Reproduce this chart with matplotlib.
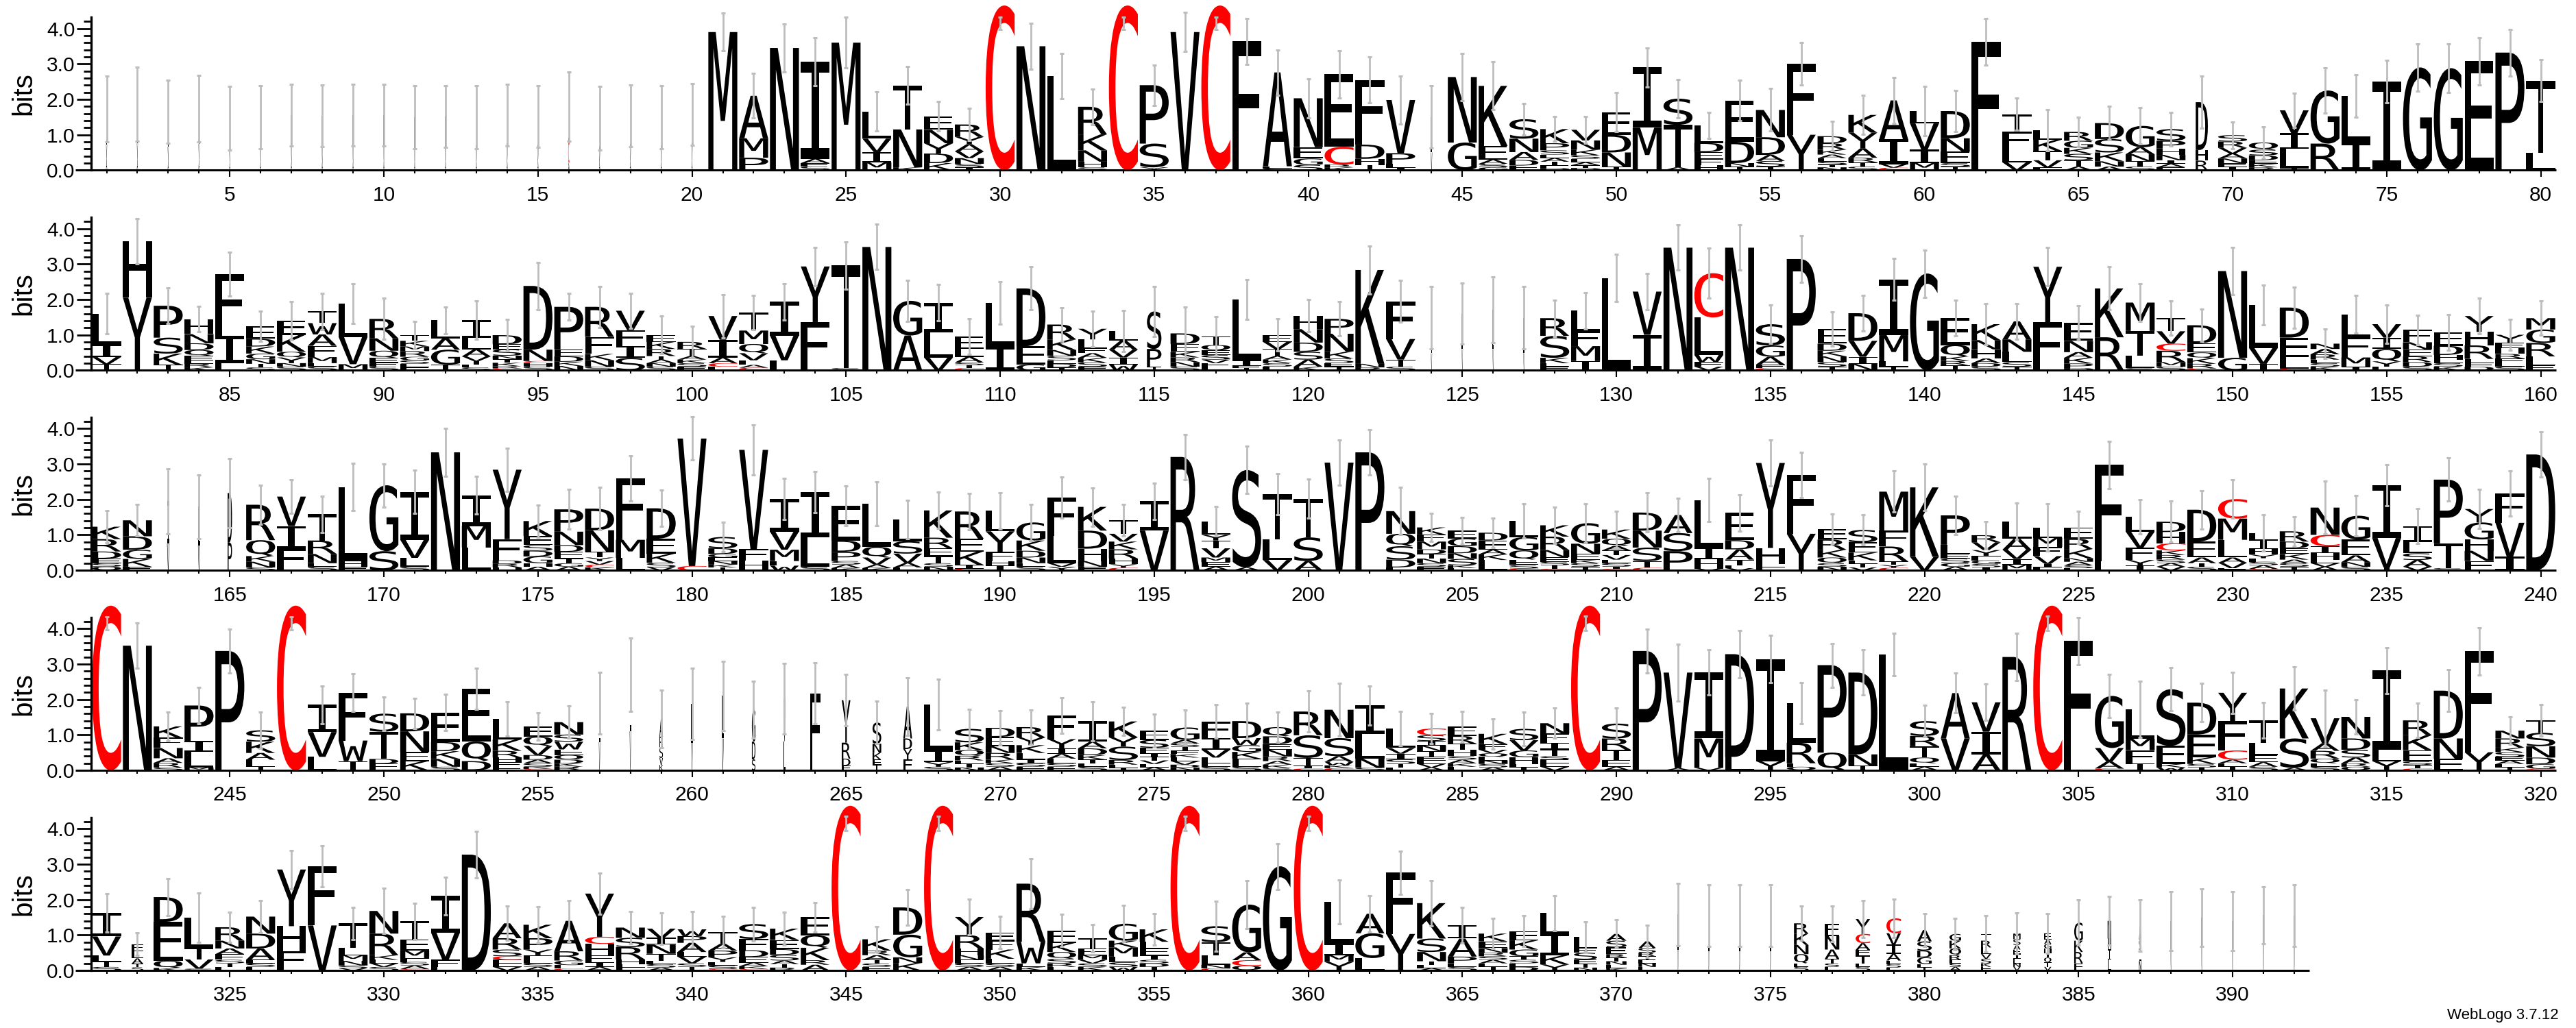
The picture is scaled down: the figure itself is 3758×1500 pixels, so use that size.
import matplotlib
matplotlib.use("Agg")
import matplotlib.pyplot as plt
from matplotlib.textpath import TextPath
from matplotlib.patches import PathPatch
from matplotlib.font_manager import FontProperties
from matplotlib.transforms import Affine2D
from matplotlib.ticker import MultipleLocator, FixedLocator
from matplotlib.lines import Line2D

# ---------------- data (letters top -> bottom, heights in bits) ----------------
ROW1 = [
    "L1.0 V.4 A.32", "L1.1 V.46 A.3", "L1.0 V.4 A.26", "L1.0 V.44 A.3", "L.9 V.35 A.22",
    "L.9 V.36 A.24", "L.9 V.4 A.26", "L.9 V.38 A.25", "L.9 V.4 A.25", "L.9 V.4 A.26",
    "L.9 V.36 A.24", "L.9 V.37 A.25", "L.9 V.36 A.24", "L.9 V.4 A.26", "L.9 V.37 A.25",
    "L1.0 C.6 A.2", "L.9 V.35 A.22", "L.9 V.38 A.25", "L.9 V.36 A.24", "L.9 V.4 A.27",
    "M3.9", "A1.2 M.55 P.35", "N3.45", "I2.75 A.12 F.1 S.1", "M3.6",
    "L.77 V.38 I.29 M.22", "T1.24 N1.07 K.08", "E.38 N.38 Y.29 D.27 K.2",
    "R.35 Y.21 A.2 V.19 N.16 S.1 I.08", "C4.65",
    "N3.5", "L2.65", "R.78 K.45 N.32 H.16 S.08", "C4.65", "P1.65 S.67 Y.08",
    "V3.9", "C4.65", "F3.64", "A2.65 E.06 S.05", "N1.38 E.32 G.18 S.15",
    "E2.05 C.5 R.08 K.08", "F1.83 D.4 H.17 T.15", "V1.5 P.3 L.1 I.08", "L1.0 V.5",
    "N1.85 G.78", "K1.7 E.38 A.12 S.1 G.08", "S.55 N.38 A.22 D.16 E.13",
    "K.4 P.2 S.12 L.1 A.1 T.1 E.08 D.06", "V.3 N.26 K.16 S.1 E.1 A.08 T.08 D.06",
    "E.64 D.5 N.4 T.1",
    "I1.7 M1.2", "S.74 T1.2 A.08", "L.5 D.26 E.2 F.16 H.15", "E1.17 D.6 N.1 T.1",
    "N.77 D.5 A.17 S.16 T.1", "F2.0 Y1.0", "D.2 R.18 K.14 A.1 E.1 S.08 T.08 N.08",
    "K.5 Y.45 A.26 R.13 T.12 S.1", "A1.1 I.7 V.1 C.07", "L.35 V.74 I.38 M.2",
    "D.77 N.38 E.32 S.1 T.1", "F3.62", "T.5 F.5 L.36 V.22", "L.26 K.32 T.26 V.2 E.08",
    "R.25 G.2 K.17 S.18 T.18 A.1", "D.45 S.38 K.25 N.15 A.1", "G.6 A.2 N.2 T.15 S.1",
    "S.33 P.22 H.18 N.15 I.1 A.1 E.08", "D1.35 H.3 R.27", "S.18 R.18 V.16 A.14 N.13 E.1 I.1",
    "Q.2 S.16 D.14 E.1 K.1 R.08", "V.64 I.45 L.55 T.05", "G1.5 R.75", "L1.3 I.8", "I2.5",
    "G2.9", "G2.88", "E3.08", "P3.32", "T2.05 L.48",
]
ERR1 = [.93, 1.05, .89, .94, .9, .89, .87, .87, .87, .87, .89, .87, .89, .87, .87, .98, .9, .87, .89, .87,
        .53, .63, .67, .68, .72, .55, .53, .42, .46, .18, .65, .64, .5, .18, .57, .55, .18, .65, .64, .55,
        .67, .65, .67, .88, .67, .68, .45, .35, .37, .55, .55, .55, .37, .58, .6, .6, .42, .55, .65, .7,
        .58, .66, .45, .58, .42, .48, .51, .47, .74, .38, .45, .48, .64, .6, .6, .66, .69, .67, .66, .59]

ROW2 = [
    "L.88 I.35 V.2 T.17", "H1.6 Y2.05", "P.9 S.45 K.32 T.15", "H.42 N.26 D.19 Q.16 E.13 L.1 R.1 K.08",
    "F1.75 I.77 L.2", "E.35 D.22 K.2 G.16 N.13 T.1 S.08", "E.4 K.48 Q.16 Y.16 N.1 S.1",
    "T.33 W.32 A.32 F.32 M.17 L.1 S.1", "L.94 V.77 M.17", "R.55 N.35 Q.2 E.13 F.12 S.1",
    "T.16 K.16 M.13 R.16 G.1 S.1 L.1 E.08", "L.51 A.32 G.42 T.16", "I.5 L.32 A.2 V.13 T.1 F.08 S.08",
    "D.26 E.14 S.18 N.1 T.1 K.1 R.06 C.05", "D1.8 N.32 C.06 H.1 S.1", "P1.2 E.2 D.15 K.12 N.12",
    "R.85 F.48 K.18 N.18 S.1", "V.55 F.45 I.33 S.35", "E.2 K.2 R.2 T.1 A.1 N.1 S.1",
    "R.2 T.2 A.1 K.1 S.1 E.1",
    "V.67 I.5 A.16 C.1 L.1", "T.51 M.38 Q.26 V.2 L.13 A.08 C.07", "I.95 V.7 L.28", "Y1.57 F1.36",
    "T2.9 S.06", "N3.48", "G.98 A.98", "I.85 L.7 V.36", "E.35 L.22 A.16 S.08 T.08 C.06", "L1.23 I.67",
    "D1.63 E.52 G.16", "R.42 K.3 N.16 S.13 E.1 D.1 T.08", "Y.3 L.26 F.13 A.13 K.13 S.12 E.1",
    "L.26 A.26 V.22 I.2 W.16", "S1.06 P.5 T.1", "D.3 E.22 K.16 R.13 N.13 S.1",
    "T.25 Q.15 E.13 S.13 V.1 F.1 L.1", "L1.73 I.15 E.06 T.06", "E.2 V.2 T.2 A.1 K.1 S.1 L.1",
    "H.38 N.38 D.26 S.22 A.2 K.1",
    "P.42 N.5 K.2 S.13 E.1 T.1", "K2.65 N.1 R.08", "F1.06 V.58 T.2 S.1", "L1.0 V.48", "L1.0 V.6",
    "L1.1 V.6", "L1.0 V.48", "R.5 S.62 K.15 L.1 E.1", "L.58 F.42 M.42 I.26", "L2.6",
    "V1.22 I1.0", "N3.46", "C1.25 L1.06 W.2 F.13 V.1", "N3.46", "S.6 G.32 A.22 F.1 C.06",
    "P3.14", "E.42 D.2 K.16 N.16 S.13 T.1", "D.78 V.45 I.2 N.18", "I1.57 M.74 L.15 T.1", "G2.73",
    "E.77 Q.32 K.13 R.13 T.13", "K.45 N.26 H.26 A.13 D.1 S.1", "A.51 N.35 L.29 S.13 T.1",
    "Y1.57 F1.35", "E.51 N.32 A.16 K.16 P.13 D.06", "K1.38 R.93", "M.8 T.7 L.35 S.06",
    "T.38 V.35 C.2 R.32 M.13 S.1", "D.51 E.26 Q.16 K.16 R.13 C.05", "N2.45 G.35",
    "L1.22 V.45 I.18", "D.85 E.55 L.32 C.05", "N.15 A.15 R.15 E.1 S.1 K.1", "L.64 F.58 M.26 I.1",
    "V.38 I.32 Q.35 Y.15 L.1", "F.35 N.2 E.2 R.16 D.13 S.1", "E.38 D.26 H.13 L.1 S.1 K.1",
    "Y.45 H.38 R.38 L.12 F.1 D.1", "Y.22 E.16 H.16 R.13 F.13 L.1 S.1", "M.32 G.38 R.38 L.26 E.13",
]
ERR2 = [.57, .64, .5, .36, .62, .42, .54, .51, .56, .58, .39, .38, .54, .45, .67, .38, .58, .5, .53, .44,
        .61, .48, .51, .54, .67, .64, .58, .51, .51, .6, .61, .48, .5, .58, .7, .75, .55, .56, .45, .46,
        .48, .68, .59, .88, .87, .93, .88, .51, .51, .67, .51, .64, .7, .64, .55, .66, .48, .51, .59, .67,
        .5, .58, .5, .54, .48, .61, .54, .48, .45, .67, .56, .58, .42, .54, .54, .42, .51, .51, .43, .48]

ROW3 = [
    "K.35 R.35 D.2 E.13 S.1 Q.1", "N.45 D.38 G.26 K.22 E.1", "I1.2 V.75", "L1.1 V.7", "D1.4 P.78",
    "R1.0 Q.45 K.16 N.16 S.08", "V.83 I.64 F.61", "T.74 R.38 N.26 E.1 S.1", "L2.1 H.15 E.1", "G1.86 S.54",
    "I1.35 V.51 L.25 S.1", "N3.33", "I.87 M.61 L.64", "Y1.96 F.6 D.1 R.1 H.08",
    "K.42 E.26 S.16 D.16 G.19 H.1 A.1", "P.63 N.38 D.19 E.19 T.13 G.1 A.1",
    "D.61 N.61 T.16 Y.1 V.1 C.08 K.08", "F1.74 M.51 L.35", "D.86 E.42 K.26 S.13 V.08", "V3.6 C.12",
    "S.32 D.16 G.1 E.1 N.1 K.08 T.08", "V2.8 F.32 H.28", "I.93 V.51 M.32 L.13 W.13", "I1.28 L.83 S.1",
    "E.98 D.32 P.26 S.1 A.1 K.06", "L1.22 Q.3 V.2 A.1 K.06", "L.61 S.35 V.26 A.13 E.08",
    "K.77 R.3 E.22 T.2 S.1 N.1", "R.77 E.36 K.38 I.1 C.05", "L.58 Y.58 F.26 H.13 I.13",
    "G.51 K.29 D.19 N.16 E.1 S.1", "F1.09 L.77 V.1 Y.1", "K.67 D.51 H.35 N.16 E.1",
    "T.38 V.22 K.22 R.26 H.16 Y.1 C.07", "I.83 V1.12", "R3.2", "L.38 Y.16 T.22 V.26 M.13 E.13 A.1",
    "S2.75 A.08", "T1.28 L.58 V.29", "T1.09 S.67 A.26",
    "V3.04", "P3.33", "N.64 Q.35 S.38 D.22 E.08", "K.2 F.2 M.22 D.13 T.13 N.13 S.1 E.1",
    "E.22 G.22 D.2 N.16 S.18 K.08 L.06", "D.22 E.26 A.13 K.16 L.29", "L.45 G.38 Q.26 E.15 S.1 C.05",
    "K.32 R.38 N.2 E.13 S.1 T.1 C.04", "G.58 N.29 E.16 K.1 S.1 T.1",
    "K.26 Q.2 A.13 T.13 V.13 E.1 S.1 I.06 C.04",
    "D.51 N.48 S.38 T.19 C.07", "A.51 S.51 P.54", "L1.35 I.32 H.26 V.05", "E.77 D.26 A.29 T.16 L.08 V.06",
    "Y2.4 H.45 L.1 E.08", "F1.67 Y1.03", "E.29 R.29 K.22 Q.16 S.1 N.1", "S.35 E.29 K.22 L.1 T.1 V.08",
    "M1.1 F.45 R.42 T.1 Y.08 C.07", "K1.96 V.38",
    "P.83 L.26 E.13 S.13 G.1 A.1", "R.2 V.22 Y.16 F.13 G.1 S.1 I.08", "L.48 A.32 V.26 I.16 M.16",
    "L.29 M.26 F.26 V.22 I.1 E.08", "E.32 R.29 K.26 N.1 A.1 S.08 L.06", "F2.72 L.26",
    "L.42 V.45 F.35 Y.16 I.13", "D.29 H.32 C.2 K.13 R.13 S.1 A.1 V.1", "D.9 E.45 A.16 T.1 S.1",
    "C.55 M.6 L.5 A.15 V.15 E.06",
    "L.19 I.26 H.16 Y.1 F.1 S.1 A.1 C.04", "R.29 D.19 E.16 K.16 A.1 S.1 T.1",
    "N.77 C.32 I.19 H.19 E.1 V.1 A.1", "G.67 E.45 A.19 N.13 S.1", "I1.5 V.83 T.08",
    "I.45 L.32 S.19 A.19 V.1", "P1.8 T.7 S.06", "Y.38 G.48 H.32 N.29 F.26", "F.83 V.96 I.38", "D3.27",
]
ERR3 = [.45, .45, .92, .9, .98, .56, .48, .51, .67, .61, .61, .67, .54, .61, .45, .56, .6, .64, .51, .61,
        .42, .7, .58, .58, .56, .62, .54, .51, .51, .51, .51, .58, .54, .45, .51, .64, .42, .67, .59, .55,
        .64, .64, .67, .4, .38, .42, .48, .51, .55, .51, .55, .48, .61, .51, .64, .64, .43, .43, .58, .66,
        .55, .38, .51, .67, .45, .67, .48, .58, .54, .54, .51, .42, .74, .58, .58, .5, .61, .55, .64, .64]

ROW4 = [
    "C4.65", "N3.52", "K.32 F.29 N.29 A.13 R.13 S.08", "P1.0 I.3 L.45 M.08", "P3.37",
    "S.32 K.32 A.19 L.2 T.1", "C4.65", "I.77 V.7 L.38", "F1.35 W.58 T.26", "S.51 T.77 D.13 E.19",
    "D.51 N.58 E.26 K.26", "E.83 D.26 K.22 N.22 S.1", "E1.5 Q.55 D.26", "L.58 K.32 R.19 H.13 F.13 E.1",
    "E.29 Q.26 V.26 D.13 A.1 S.1 K.06 C.04", "N.35 S.2 W.22 E.16 Q.13 D.1 K.1 R.1", "L1.1 V.79",
    "L1.6 V1.1", "A.5 R.3 S.3 V.2 K.15", "L1.1 V.78",
    "L1.2 V.9", "G.9 D.5 S.31", "V1.2 L.82", "F2.17", "Y1.2 R.45 D.2 F.13", "S.6 N.25 K.2 E.15 T.15",
    "A.9 D.3 Y.3 F.3", "L1.31 I.32 Y.13 S.1", "S.38 K.22 Q.16 R.13 E.1 T.1 N.08",
    "D.26 E.26 N.19 R.19 K.1 S.1 A.1",
    "R.29 Y.22 K.22 L.19 I.1 S.1 E.1", "F.67 Y.26 I.16 A.13 L.13 S.1 E.1",
    "I.58 A.19 D.19 K.13 T.1 E.1 S.1", "K.45 Y.26 S.38 R.13 E.1 T.06",
    "E.26 S.22 F.16 I.1 T.1 V.1 L.1 A.08", "G.35 A.1 S.1 T.1 E.1 K.1 L.1 V.1 D.08 N.08",
    "F.48 I.32 V.22 L.16 E.1 S.1", "D.48 W.2 G.19 K.19 F.13 E.1 S.1",
    "Q.26 D.22 E.16 N.19 R.13 A.1 K.1 S.06", "R.67 S.64 T.22 I.08 C.05",
    "N.8 S.51 A.16 W.1 K.08 C.06", "I.8 L.7 N.26 S.07", "L.55 V.16 I.16 S.13 T.1 E.08",
    "C.19 S.16 I.13 N.16 T.16 E.1 L.1 V.1 A.08", "E.26 R.22 T.16 H.19 S.1 A.1 K.1 L.1",
    "K.29 F.16 V.1 Q.1 L.1 N.1 S.1 A.08", "S.32 V.29 G.19 H.19 E.1 T.08",
    "N.29 F.26 I.19 T.19 S.1 E.1 L.1 V.1", "C4.65", "S.42 R.32 T.29 E.19 A.1",
    "P3.37", "V2.7 A.06", "I1.86 M.83 V.07", "D2.9 L.38", "I2.88 Y.26", "L1.12 R.58 F.1 Q.1",
    "P2.47 Q.5", "D2.31 N.32 T.13", "L3.27", "S.42 R.29 T.32 Q.16 E.1 A.1",
    "A1.28 V.9", "V.83 I.64 A.45", "R3.2", "C4.65", "F3.65", "G1.47 V.38 A.2 C.05",
    "L.83 M.32 F.38 T.19", "S1.6 E.51 K.1 W.08", "D.9 E.64 K.19 S.1 T.08", "Y.8 F.83 C.26 A.1 L.1 T.1",
    "T.64 L.35 E.19 A.13 S.1", "K1.41 S.83 A.07", "V.7 A.22 R.22 Q.13 L.1 S.1",
    "N.61 D.32 S.22 A.16 R.1 Q.1", "I2.24 L.32 Y.26", "R.42 K.42 E.32 S.1 T.1 C.05", "D1.35 N.58 E.32",
    "F2.85 Y.51", "N.22 R.26 K.13 S.13 E.1 A.1 L.1 T.08", "T.35 S.38 N.32 D.19 G.13 C.04",
]
ERR4 = [.18, .64, .4, .51, .62, .51, .18, .54, .53, .48, .42, .51, .58, .48, .38, .45, .87, 1.04, .81, 1.01,
        .98, .8, .99, .86, .73, .6, .82, .72, .55, .48, .48, .51, .55, .4, .46, .5, .48, .5, .42, .58,
        .74, .56, .48, .42, .43, .43, .48, .43, .2, .45, .62, .8, .64, .66, .67, .58, .62, .64, .6, .45,
        .56, .51, .67, .2, .67, .61, .8, .61, .54, .58, .51, .61, .8, .48, .65, .48, .59, .67, .38, .45]

ROW5 = [
    "I.67 V.54 L.16 T.16 S.1", "E.2 L.2 A.15 T.1 S.09", "D.7 E1.1 Q.2 K.07", "L.86 T.32 V.26 S.05",
    "R.38 N.22 A.16 E.16 S.1 T.1 L.1", "N.48 D.42 A.32 E.1 S.1 L.1", "Y1.6 H.7 F.55", "F1.67 V1.27",
    "T.7 L.2 M.16 N.13 S.08 V.06", "N.64 R.61 K.13 L.1 V.1 S.1",
    "T.51 E.32 M.22 F.1 S.1 A.1 C.04", "I1.03 V.77 F.2 L.1", "D3.27", "A.42 R.32 S.19 C.1 E.1 L.1 V.1",
    "K.38 P.32 Y.16 E.13 L.1 S.1 A.1", "A.86 R.26 G.13 L.1 C.05", "Y1.22 C.2 H.32 F.2 I.13 A.1",
    "N.29 S.26 R.35 H.13 L.1 E.08", "V.26 I.19 N.26 T.19 L.1 S.1 A.08", "W.19 P.19 A.26 L.13 V.19 S.1 T.1",
    "T.33 A.19 P.19 Y.13 E.1 S.1 C.04", "S.42 F.32 D.19 E.16 A.1 K.08 C.04",
    "K.32 E.26 D.16 S.16 A.1 T.1 R.08", "E.51 Q.35 K.35 R.13 A.16", "C4.65", "K.32 R.13 A.13 T.1 S.1 E.1",
    "D.77 G.64 N.16 K.21", "C4.65", "Y.51 R.38 H.19 N.13 E.1 S.1 A.1", "E.22 F.26 K.26 L.13 S.1 A.1",
    "R1.64 W.61 E.1 K.1", "E.35 K.26 Q.19 S.13 R.1 L.1", "T.29 E.19 M.13 V.1 S.1 K.1",
    "G.48 K.19 M.26 L.16 S.13 W.1", "K.35 L.19 E.19 I.13 S.1 D.1 T.1", "C4.65", "S.45 T.38 L.26 N.1 C.06",
    "G1.35 A.22 C.16 Q.13", "G2.94", "C4.65",
    "L1.19 I.32 M.19 Y.24", "A.55 G.7 L.35", "F1.73 Y1.03", "K1.0 S.38 N.26 T.1 E.1 A.06",
    "I.38 A.51 P.19 L.1 S.1", "K.22 E.19 N.13 R.1 S.1 A.1 L.1 T.1", "E.26 K.26 G.19 T.1 S.1 L.1 D.1",
    "L.58 I.61 K.26 Y.17", "L.32 F.13 S.19 E.13 T.1 N.08", "A.19 S.19 E.19 R.1 T.1 N.1 L.1 K.06",
    "A.19 S.13 R.1 T.1 E.1 N.1 L.1", "L1.0 V.58", "L1.0 V.55", "L1.0 V.55", "L1.0 V.55",
    "R.29 K.32 N.26 Q.26 E.1 S.1", "E.35 N.38 A.26 T.13 S.1 L.1", "Y.42 C.26 A.19 F.16 T.22 L.1 S.1",
    "C.42 V.32 I.26 A.19 L.1 S.1 E.08", "A.32 S.26 D.19 G.19 E.1 T.08",
    "G.19 K.22 Q.19 R.13 E.1 S.1 A.1", "T.19 R.19 L.19 V.13 S.13 K.1 E.1",
    "M.16 S.16 A.13 E.13 I.13 L.13 N.1 V.1", "E.16 A.13 G.13 H.13 I.13 Q.13 T.13 V.1",
    "G.51 K.32 R.32 E.2", "N.5 H.3 I.3 L.3", "A.4 S.3 L.3 N.27", "L.8 V.6", "L.8 V.69", "L.8 V.6",
    "L.8 V.76", "L.8 V.74",
]
ERR5 = [.54, .32, .53, .7, .42, .45, .54, .58, .46, .64, .51, .54, .66, .48, .51, .58, .58, .45, .45, .51,
        .45, .48, .46, .42, .2, .35, .51, .2, .51, .45, .7, .45, .38, .51, .45, .2, .7, .67, .65, .2,
        .62, .51, .61, .64, .51, .43, .44, .49, .42, .4, .45, .88, .87, .87, .87, .48, .5, .53, .54, .46,
        .45, .51, .58, .56, .64, .69, .72, .83, .82, .83, .8, .87]

# fraction of non-gap sequences per column (drives letter width); default 1
OCCUPANCY = {
    1: .035, 2: .035, 3: .035, 4: .035, 5: .035, 6: .035, 7: .035, 8: .035, 9: .035, 10: .035,
    11: .035, 12: .035, 13: .035, 14: .035, 15: .035, 16: .04, 17: .035, 18: .035, 19: .035, 20: .035,
    44: .05, 69: .42, 115: .5, 124: .04, 125: .04, 126: .04, 127: .04,
    163: .08, 164: .07, 165: .15,
    257: .05, 258: .05, 259: .12, 260: .05, 261: .06, 262: .12, 263: .06, 264: .35, 265: .3, 266: .3, 267: .3,
    322: .4, 369: .8, 370: .7, 371: .6, 372: .035, 373: .035, 374: .035, 375: .035,
    376: .5, 377: .5, 378: .5, 379: .5, 380: .5, 381: .4, 382: .35, 383: .25, 384: .25, 385: .3,
    386: .12, 387: .08, 388: .035, 389: .035, 390: .035, 391: .035, 392: .035,
}
ROWS = [ROW1, ROW2, ROW3, ROW4, ROW5]
ERRS = [ERR1, ERR2, ERR3, ERR4, ERR5]
ROW_START = [1, 81, 161, 241, 321]
MAX_ERR_CENTER = 4.15
LETTER_COLORS = {"C": "#ff0000"}

# ---------------- layout ----------------
W, H, DPI = 3758, 1500, 100
X0 = 155.5        # px, centre of first column
DX = 44.95        # px per column
BASE = [248.3, 540.2, 832.1, 1124.0, 1416.0]
PPB = 51.67       # px per bit
YMAX = 4.32

fig = plt.figure(figsize=(W / DPI, H / DPI), dpi=DPI)
fig.patch.set_facecolor("white")

gfont = FontProperties(family="DejaVu Sans Mono", weight="normal")
_cache = {}


def glyph(ch):
    if ch not in _cache:
        p = TextPath((0, 0), ch, size=100, prop=gfont)
        _cache[ch] = (p, p.get_extents())
    return _cache[ch]


def parse(col):
    out = []
    for tok in col.split():
        out.append((tok[0], float(tok[1:])))
    return out


for r, (row, errs, start) in enumerate(zip(ROWS, ERRS, ROW_START)):
    n = len(row)
    left = X0 - DX / 2
    ax = fig.add_axes([left / W, 1 - BASE[r] / H, n * DX / W, YMAX * PPB / H])
    ax.set_xlim(start - 0.5, start + n - 0.5)
    ax.set_ylim(0, YMAX)
    ax.patch.set_alpha(0)
    positions = list(range(start, start + n))
    centers = []
    for pos, col in zip(positions, row):
        stack = parse(col)
        w = 0.94 * OCCUPANCY.get(pos, 1.0)
        y = 0.0
        for ch, h in reversed(stack):
            path, ext = glyph(ch)
            tr = (Affine2D().translate(-ext.x0, -ext.y0)
                  .scale(w / ext.width, h / ext.height)
                  .translate(pos - w / 2, y))
            patch = PathPatch(tr.transform_path(path), facecolor=LETTER_COLORS.get(ch, "black"),
                              edgecolor="none", lw=0, clip_on=False, zorder=2)
            ax.add_patch(patch)
            y += h
        centers.append(min(y, MAX_ERR_CENTER))
    ax.errorbar(positions, centers, yerr=errs, fmt="none", ecolor="#bdbdbd",
                elinewidth=2.0, capsize=2.5, capthick=2.2, zorder=5, clip_on=False)

    # axes styling
    for s in ("top", "right", "bottom"):
        ax.spines[s].set_visible(False)
    ax.spines["left"].set_linewidth(2.4)
    ax.spines["left"].set_bounds(0, YMAX)
    x_left = start - 0.5 - 23 / DX
    ax.add_line(Line2D([x_left, start + n - 0.5], [0, 0], color="black", lw=2.2,
                       solid_capstyle="butt", clip_on=False, zorder=6))

    ax.yaxis.set_major_locator(FixedLocator([0, 1, 2, 3, 4]))
    ax.set_yticklabels(["0.0", "1.0", "2.0", "3.0", "4.0"], fontsize=21.5, family="Liberation Sans")
    ax.yaxis.set_minor_locator(MultipleLocator(0.2))
    ax.tick_params(axis="y", which="major", length=15, width=2.0, pad=2, direction="out")
    ax.tick_params(axis="y", which="minor", length=8, width=2.0, direction="out")

    majors = [p for p in positions if p % 5 == 0]
    ax.xaxis.set_major_locator(FixedLocator(majors))
    ax.set_xticklabels([str(p) for p in majors], fontsize=21.5, family="Liberation Sans")
    ax.xaxis.set_minor_locator(FixedLocator(positions))
    ax.tick_params(axis="x", which="major", length=7.2, width=1.5, pad=9, direction="out")
    ax.tick_params(axis="x", which="minor", length=3.6, width=1.5, direction="out")

    fig.text(34 / W, 1 - (BASE[r] - YMAX / 2 * PPB) / H, "bits", rotation=90,
             fontsize=29, family="Liberation Sans", ha="center", va="center")

fig.text(3733 / W, 1 - 1482 / H, "WebLogo 3.7.12", ha="right", va="center",
         fontsize=16, family="Liberation Sans")

fig.savefig("out.png", dpi=DPI, facecolor="white")
